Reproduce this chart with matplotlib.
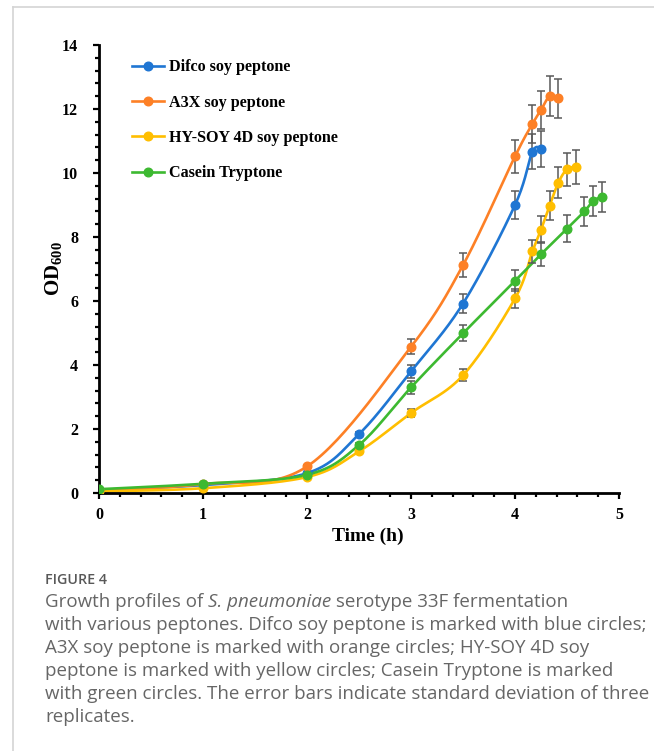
import numpy as np
import matplotlib
matplotlib.use("Agg")
import matplotlib.pyplot as plt
from matplotlib.lines import Line2D
from matplotlib.ticker import MultipleLocator

plt.rcParams['font.family'] = ['Liberation Serif', 'DejaVu Serif']
plt.rcParams['mathtext.fontset'] = 'custom'
plt.rcParams['mathtext.rm'] = 'Liberation Serif:bold'
plt.rcParams['mathtext.bf'] = 'Liberation Serif:bold'

# data (time in h, OD600, SD)
difco_t = [0, 1, 2, 2.5, 3, 3.5, 4, 4.167, 4.25]
difco_od = [0.10, 0.25, 0.62, 1.84, 3.80, 5.92, 9.00, 10.66, 10.75]
difco_sd = [0.02, 0.02, 0.04, 0.07, 0.20, 0.30, 0.45, 0.55, 0.55]

a3x_t = [0, 1, 2, 3, 3.5, 4, 4.167, 4.25, 4.333, 4.417]
a3x_od = [0.08, 0.28, 0.83, 4.57, 7.12, 10.52, 11.53, 11.97, 12.40, 12.33]
a3x_sd = [0.02, 0.03, 0.05, 0.23, 0.37, 0.52, 0.58, 0.60, 0.62, 0.61]

hysoy_t = [0, 1, 2, 2.5, 3, 3.5, 4, 4.167, 4.25, 4.333, 4.417, 4.5, 4.583]
hysoy_od = [0.05, 0.15, 0.50, 1.30, 2.50, 3.68, 6.08, 7.55, 8.23, 8.98, 9.70, 10.12, 10.19]
hysoy_sd = [0.01, 0.02, 0.04, 0.06, 0.12, 0.18, 0.30, 0.37, 0.43, 0.45, 0.48, 0.52, 0.52]

casein_t = [0, 1, 2, 2.5, 3, 3.5, 4, 4.25, 4.5, 4.667, 4.75, 4.833]
casein_od = [0.12, 0.29, 0.57, 1.50, 3.30, 4.99, 6.63, 7.46, 8.26, 8.80, 9.12, 9.26]
casein_sd = [0.02, 0.02, 0.04, 0.06, 0.19, 0.25, 0.33, 0.38, 0.42, 0.46, 0.46, 0.47]

labels = ['Difco soy peptone', 'A3X soy peptone', 'HY-SOY 4D soy peptone', 'Casein Tryptone']
colors = ['#1F76D3', '#FD8026', '#FFBE00', '#3DB931']

caption = [
    "with various peptones. Difco soy peptone is marked with blue circles;",
    "A3X soy peptone is marked with orange circles; HY-SOY 4D soy",
    "peptone is marked with yellow circles; Casein Tryptone is marked",
    "with green circles. The error bars indicate standard deviation of three",
    "replicates.",
]


def smooth(x, y, n=30):
    # excel-like smoothed line: cubic bezier segments, catmull-rom control points
    x = np.asarray(x, float)
    y = np.asarray(y, float)
    px = np.concatenate([[x[0]], x, [x[-1]]])
    py = np.concatenate([[y[0]], y, [y[-1]]])
    xs, ys = [], []
    s = np.linspace(0, 1, n)
    for i in range(1, len(px) - 2):
        p0 = np.array([px[i], py[i]])
        p3 = np.array([px[i + 1], py[i + 1]])
        c1 = p0 + (np.array([px[i + 1], py[i + 1]]) - np.array([px[i - 1], py[i - 1]])) / 6
        c2 = p3 - (np.array([px[i + 2], py[i + 2]]) - np.array([px[i], py[i]])) / 6
        b = ((1 - s) ** 3)[:, None] * p0 + (3 * (1 - s) ** 2 * s)[:, None] * c1 \
            + (3 * (1 - s) * s ** 2)[:, None] * c2 + (s ** 3)[:, None] * p3
        xs.append(b[:, 0])
        ys.append(b[:, 1])
    return np.concatenate(xs), np.concatenate(ys)


fig = plt.figure(figsize=(6.54, 7.51), dpi=100)
ax = fig.add_axes([0.1514, 0.3435, 0.7951, 0.5966])

series = [(difco_t, difco_od, difco_sd), (a3x_t, a3x_od, a3x_sd),
          (hysoy_t, hysoy_od, hysoy_sd), (casein_t, casein_od, casein_sd)]

handles = []
for (t, od, sd), c, lab in zip(series, colors, labels):
    sx, sy = smooth(t, od)
    ax.plot(sx, sy, color=c, lw=1.9, zorder=2, solid_capstyle='round')
    ax.errorbar(t, od, yerr=sd, fmt='none', ecolor='#595959', elinewidth=1.1,
                capsize=3, capthick=1.1, zorder=3)
    ax.plot(t, od, 'o', color=c, ms=6.2, zorder=4)
    handles.append(Line2D([0], [0], color=c, lw=1.9, marker='o', ms=6.2))

ax.set_xlim(0, 5)
ax.set_ylim(0, 14)
ax.xaxis.set_major_locator(MultipleLocator(1))
ax.xaxis.set_minor_locator(MultipleLocator(0.2))
ax.yaxis.set_major_locator(MultipleLocator(2))
ax.yaxis.set_minor_locator(MultipleLocator(0.4))
for s in ['top', 'right']:
    ax.spines[s].set_visible(False)
for s in ['left', 'bottom']:
    ax.spines[s].set_linewidth(2.0)
ax.tick_params(which='major', direction='out', length=4, width=1.6, labelsize=11.5)
ax.tick_params(axis='y', which='major', pad=11)
ax.tick_params(axis='x', which='major', pad=6)
ax.tick_params(which='minor', direction='out', length=3, width=1.6)
for lbl in ax.get_xticklabels() + ax.get_yticklabels():
    lbl.set_fontweight('bold')

ax.set_xlabel('Time (h)', fontsize=14, fontweight='bold')
ax.xaxis.set_label_coords(0.517, -0.078)
ax.set_ylabel(r'$\mathbf{OD}_{\mathbf{600}}$', fontsize=15)
ax.yaxis.set_label_coords(-0.066, 0.5)

ax.legend(handles, labels, loc='upper left', bbox_to_anchor=(0.063, 0.968),
          frameon=False, borderpad=0, borderaxespad=0, handlelength=2.0,
          handletextpad=0.3, labelspacing=1.2,
          prop={'family': 'Liberation Serif', 'weight': 'bold', 'size': 11.6})

# page frame lines
fig.add_artist(Line2D([13 / 654, 1], [1 - 7 / 751, 1 - 7 / 751], transform=fig.transFigure,
                      color='#d4d4d4', lw=1.2))
fig.add_artist(Line2D([13 / 654, 13 / 654], [0, 1 - 7 / 751], transform=fig.transFigure,
                      color='#d4d4d4', lw=1.2))

# caption
cap_font = dict(family='Open Sans', color='#666666', fontsize=13.5)
x0 = 45 / 654
fig.text(x0, 1 - 580 / 751, 'FIGURE 4', family='Open Sans', color='#585858',
         fontsize=10.3, fontweight='semibold', va='center')
fig.canvas.draw()
r = fig.canvas.get_renderer()
y1 = 1 - 602 / 751
t1 = fig.text(x0, y1, 'Growth profiles of ', va='center', **cap_font)
bb = t1.get_window_extent(r)
t2 = fig.text(bb.x1 / fig.bbox.width, y1, 'S. pneumoniae', va='center', style='italic', **cap_font)
bb = t2.get_window_extent(r)
fig.text(bb.x1 / fig.bbox.width, y1, ' serotype 33F fermentation', va='center', **cap_font)
for i, line in enumerate(caption):
    fig.text(x0, 1 - (625 + 23.0 * i) / 751, line, va='center', **cap_font)

fig.savefig('out.png', dpi=100)
